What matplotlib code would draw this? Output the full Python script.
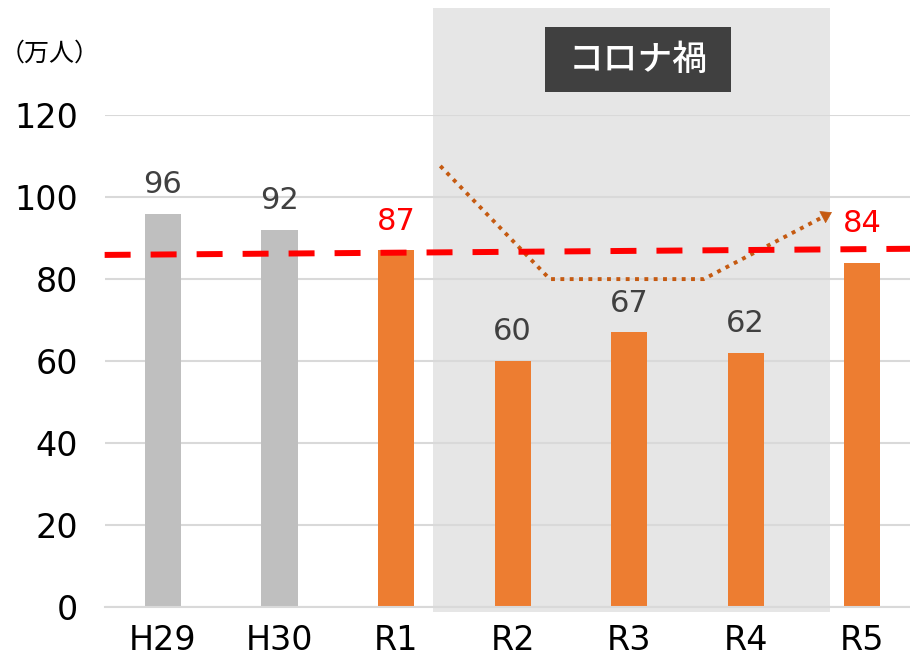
import numpy as np
import matplotlib.pyplot as plt
from matplotlib.patches import Rectangle

plt.rcParams['font.family'] = ['DejaVu Sans', 'Noto Sans CJK JP']

#Datos:
categorias = ['H29', 'H30', 'R1', 'R2', 'R3', 'R4', 'R5']
valores = [96, 92, 87, 60, 67, 62, 84]
colores = ['#BFBFBF', '#BFBFBF', '#ED7D31', '#ED7D31', '#ED7D31', '#ED7D31', '#ED7D31']
color_etiqueta = ['#404040', '#404040', '#FF0000', '#404040', '#404040', '#404040', '#FF0000']

#Linea roja discontinua (nivel de referencia):
ref_x = [-0.5, 6.41]
ref_y = [85.9, 87.4]

#Flecha punteada (caida y recuperacion):
flecha_x = [2.38, 3.32, 4.64, 5.74]
flecha_y = [107.6, 80.0, 80.0, 96.3]

#Zona coronavirus y su etiqueta:
zona_x = (2.32, 5.72)
zona_y = (-1.2, 146.2)
caja_x = (3.28, 4.875)
caja_y = (125.6, 141.5)

fig = plt.figure(figsize=(9.1, 6.58), dpi=100)
ax = fig.add_axes([0.115, 0.0775, 0.885, 0.7475])

x = np.arange(len(categorias))

#Fondo gris de la zona
ax.add_patch(Rectangle((zona_x[0], zona_y[0]), zona_x[1]-zona_x[0], zona_y[1]-zona_y[0],
                       facecolor='#E6E6E6', edgecolor='none', zorder=0, clip_on=False))

ax.set_ylim(0, 120)
ax.set_xlim(-0.5, 6.41)
ax.set_yticks(np.arange(0, 121, 20))
ax.yaxis.grid(True, color='#D9D9D9', lw=1.5, zorder=1)
ax.set_axisbelow(True)

ax.bar(x, valores, width=0.31, color=colores, zorder=2)
for xi, v, c in zip(x, valores, color_etiqueta):
    extra = 2.5 if xi == len(x) - 1 else 0.0 #la etiqueta de R5 queda por encima de la linea roja
    ax.text(xi, v + 3.6 + extra, str(v), ha='center', va='bottom', fontsize=22, color=c, zorder=5)

#Linea discontinua roja
ax.plot(ref_x, ref_y, color='#FF0000', lw=4.3, linestyle=(0, (4.35, 3.35)),
        dash_capstyle='butt', zorder=4, clip_on=False)

#Flecha punteada
dx = flecha_x[-1] - flecha_x[-2]
dy = flecha_y[-1] - flecha_y[-2]
base_x = flecha_x[-1] - 0.08 * dx / np.hypot(dx, dy / 30)
base_y = flecha_y[-1] - 0.08 * dy / np.hypot(dx, dy / 30)
ax.plot(flecha_x[:-1] + [base_x], flecha_y[:-1] + [base_y], color='#C55A11', lw=2.8,
        linestyle=(0, (1, 1.4)), zorder=3)
ax.annotate('', xy=(flecha_x[-1], flecha_y[-1]), xytext=(base_x, base_y),
            arrowprops=dict(arrowstyle='-|>,head_length=0.7,head_width=0.45',
                            color='#C55A11', lw=0.5, shrinkA=0, shrinkB=0), zorder=3)

#Etiqueta de la zona
ax.add_patch(Rectangle((caja_x[0], caja_y[0]), caja_x[1]-caja_x[0], caja_y[1]-caja_y[0],
                       facecolor='#404040', edgecolor='none', zorder=6, clip_on=False))
ax.text(sum(caja_x) / 2, sum(caja_y) / 2, 'コロナ禍', ha='center', va='center', fontsize=25,
        color='white', family='Noto Sans CJK JP', weight='medium', zorder=7, clip_on=False)

for s in ['top', 'right', 'left']:
    ax.spines[s].set_visible(False)
ax.spines['bottom'].set_color('#D9D9D9')
ax.spines['bottom'].set_linewidth(1.5)
ax.tick_params(axis='both', length=0, labelsize=24, colors='#000000')
ax.tick_params(axis='y', pad=19)
ax.tick_params(axis='x', pad=12)
ax.set_xticks(x)
ax.set_xticklabels(categorias)

fig.text(0.0, 0.918, '（万人）', fontsize=18, va='center', ha='left', family='Noto Sans CJK JP')

fig.savefig('out.png', dpi=100)
